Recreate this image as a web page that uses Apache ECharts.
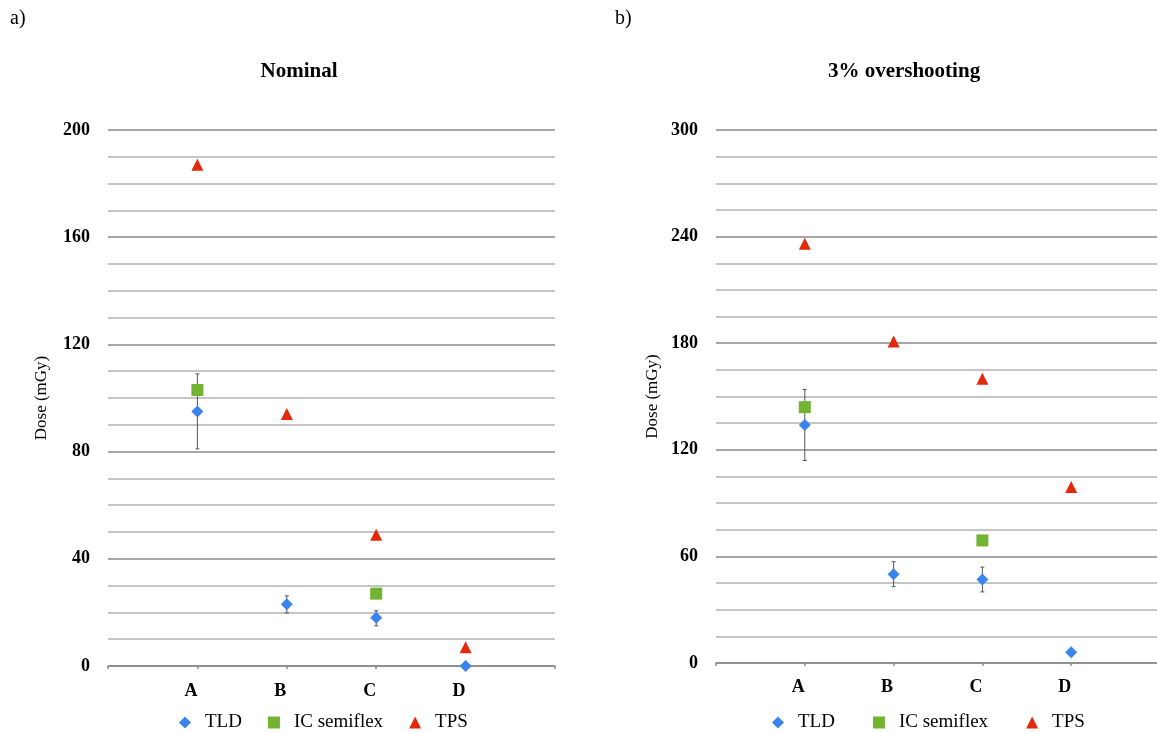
<!DOCTYPE html>
<html><head><meta charset="utf-8">
<script src="https://cdn.jsdelivr.net/npm/echarts@6/dist/echarts.min.js"></script>
<style>html,body{margin:0;padding:0;background:#fff}#c{width:1157px;height:733px}</style>
</head><body><div id="c"></div>
<script>
// ---- data ----
const categories = ['', 'A', 'B', 'C', 'D', ''];
const points = ['A', 'B', 'C', 'D'];
// Panel a) Nominal
const nomTLD = [95, 23, 18, 0];
const nomTLDLow = [81, 19.8, 15, 0];
const nomTLDHigh = [109, 26.2, 20.6, 0];
const nomIC = [103, null, 27, null];
const nomTPS = [187, 94, 49, 7];
// Panel b) 3% overshooting
const ovTLD = [134, 50, 47, 6];
const ovTLDLow = [114, 43, 40, 5];
const ovTLDHigh = [154, 57, 54, 7];
const ovIC = [144, null, 69, null];
const ovTPS = [236, 181, 160, 99];
const nomTicks = [0, 40, 80, 120, 160, 200];
const ovTicks = [0, 60, 120, 180, 240, 300];

const FONT = '"Liberation Serif", "DejaVu Serif", serif';
const BLUE = '#3b83ef', GREEN = '#72b332', RED = '#e3290b';

function pairs(vals) {
  return points.map((p, i) => vals[i] == null ? null : [p, vals[i]]).filter(d => d);
}
function errData(lo, hi) {
  return points.map((p, i) => [p, lo[i], hi[i]]);
}
function errSeries(idx, lo, hi) {
  return {
    type: 'custom', xAxisIndex: idx, yAxisIndex: idx, silent: true, z: 1,
    data: errData(lo, hi),
    encode: { x: 0, y: [1, 2] },
    renderItem: function (params, api) {
      const x = api.value(0);
      const a = api.coord([x, api.value(1)]);
      const b = api.coord([x, api.value(2)]);
      const w = 2;
      const st = { stroke: '#555', lineWidth: 1 };
      return { type: 'group', children: [
        { type: 'line', shape: { x1: a[0], y1: a[1], x2: b[0], y2: b[1] }, style: st },
        { type: 'line', shape: { x1: a[0] - w, y1: a[1], x2: a[0] + w, y2: a[1] }, style: st },
        { type: 'line', shape: { x1: b[0] - w, y1: b[1], x2: b[0] + w, y2: b[1] }, style: st }
      ]};
    }
  };
}
function scat(idx, name, vals, symbol, size, color) {
  return { type: 'scatter', name: name, xAxisIndex: idx, yAxisIndex: idx, z: 3,
    symbol: symbol, symbolSize: size, itemStyle: { color: color, opacity: 1 },
    data: pairs(vals) };
}
function xAxis(idx) {
  return { type: 'category', gridIndex: idx, data: categories, boundaryGap: false,
    axisLine: { lineStyle: { color: '#8a8a8a', width: 1.5 } },
    axisTick: { show: true, alignWithLabel: true, length: 3, lineStyle: { color: '#8a8a8a', width: 1.5 } },
    axisLabel: { margin: idx === 0 ? 16 : 15, padding: [0, 13, 0, 0], fontFamily: FONT, fontWeight: 'bold', fontSize: 18, color: '#000' },
    splitLine: { show: false } };
}
function yAxis(idx, max, interval, labelStep) {
  return { type: 'value', gridIndex: idx, min: 0, max: max, interval: interval,
    name: 'Dose (mGy)', nameLocation: 'middle', nameGap: idx === 0 ? 58 : 55,
    nameTextStyle: { fontFamily: FONT, fontSize: 17, color: '#000' },
    axisLine: { show: false }, axisTick: { show: false },
    axisLabel: { margin: 18, fontFamily: FONT, fontWeight: 'bold', fontSize: 18, color: '#000',
      formatter: v => (v % labelStep === 0 ? String(v) : '') },
    splitLine: { show: true, lineStyle: { color: ['#8a8a8a', '#b2b2b2', '#b2b2b2', '#b2b2b2'], width: 1.5 } } };
}
function legend(left, gap) {
  return { left: left, top: 713, itemWidth: 12, itemHeight: 12, itemGap: gap, padding: 0,
    data: [{ name: 'TLD', icon: 'diamond' }, { name: 'IC semiflex', icon: 'rect' }, { name: 'TPS', icon: 'triangle' }],
    textStyle: { fontFamily: FONT, fontSize: 19, color: '#000', padding: [0, 0, 0, 9] } };
}

const chart = echarts.init(document.getElementById('c'));
chart.setOption({
  animation: false,
  backgroundColor: '#fff',
  title: [
    { text: 'a)', left: 10, top: 9, padding: 0, textStyle: { fontFamily: FONT, fontSize: 20, fontWeight: 'normal', color: '#000' } },
    { text: 'b)', left: 615, top: 9, padding: 0, textStyle: { fontFamily: FONT, fontSize: 20, fontWeight: 'normal', color: '#000' } },
    { text: 'Nominal', left: 299, top: 61, padding: 0, textAlign: 'center', textStyle: { fontFamily: FONT, fontSize: 21, fontWeight: 'bold', color: '#000' } },
    { text: '3% overshooting', left: 904, top: 61, padding: 0, textAlign: 'center', textStyle: { fontFamily: FONT, fontSize: 21, fontWeight: 'bold', color: '#000' } }
  ],
  legend: [legend(179, 26), legend(772, 38)],
  grid: [
    { left: 108, top: 130, width: 447, height: 536, outerBoundsMode: 'none', containLabel: false },
    { left: 716, top: 130, width: 444, height: 533, outerBoundsMode: 'none', containLabel: false }
  ],
  xAxis: [xAxis(0), xAxis(1)],
  yAxis: [yAxis(0, 200, 10, 40), yAxis(1, 300, 15, 60)],
  series: [
    errSeries(0, nomTLDLow, nomTLDHigh),
    scat(0, 'TLD', nomTLD, 'diamond', 12, BLUE),
    scat(0, 'IC semiflex', nomIC, 'rect', 12, GREEN),
    scat(0, 'TPS', nomTPS, 'triangle', 12, RED),
    errSeries(1, ovTLDLow, ovTLDHigh),
    scat(1, 'TLD', ovTLD, 'diamond', 12, BLUE),
    scat(1, 'IC semiflex', ovIC, 'rect', 12, GREEN),
    scat(1, 'TPS', ovTPS, 'triangle', 12, RED)
  ]
});
</script></body></html>
